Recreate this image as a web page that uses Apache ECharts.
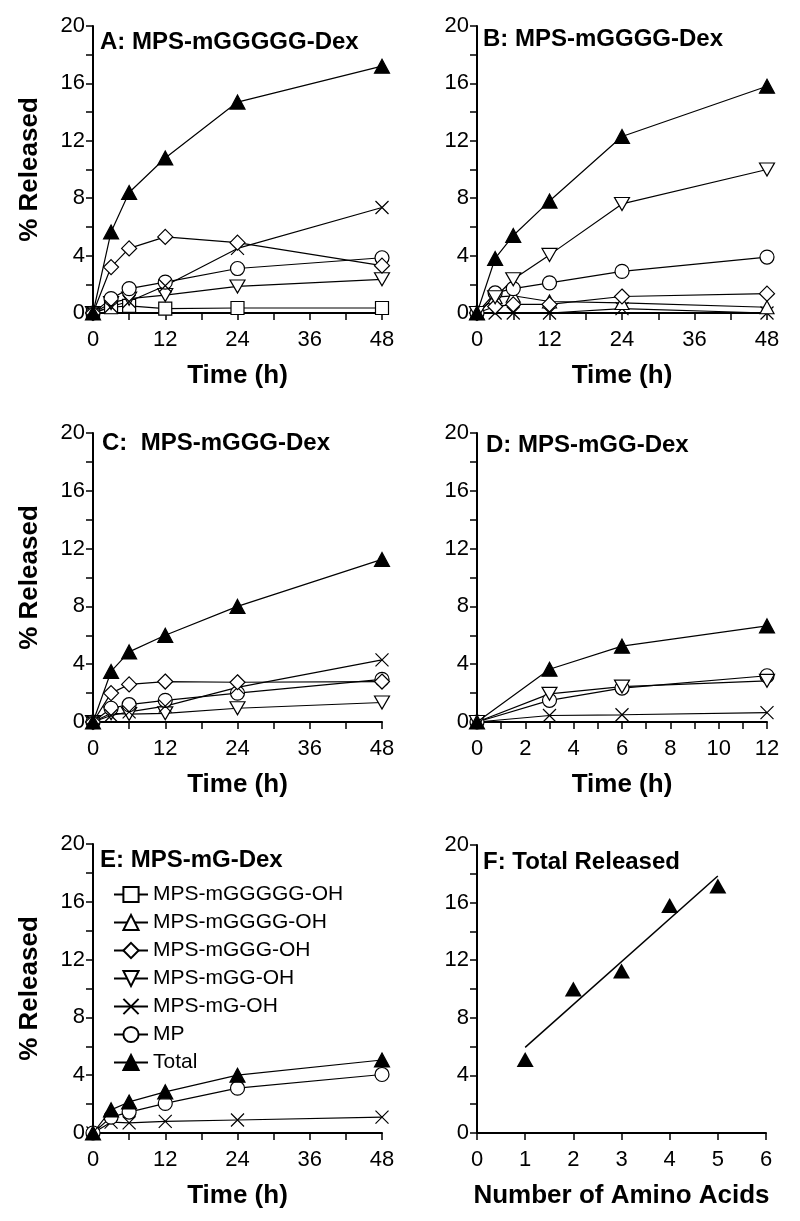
<!DOCTYPE html>
<html>
<head>
<meta charset="utf-8">
<title>Release profiles</title>
<script src="https://cdn.jsdelivr.net/npm/echarts@6/dist/echarts.min.js"></script>
<style>
    html, body { margin: 0; padding: 0; background: #fff; }
    #chart { width: 800px; height: 1221px; }
</style>
</head>
<body>
<div id="chart"></div>
<script>
// time points (h)
const timeLong = [0, 3, 6, 12, 24, 48];
const timeShort = [0, 3, 6, 12];

// legend / species names
const speciesNames = ['MPS-mGGGGG-OH', 'MPS-mGGGG-OH', 'MPS-mGGG-OH', 'MPS-mGG-OH', 'MPS-mG-OH', 'MP', 'Total'];

// panel A: MPS-mGGGGG-Dex
const aGGGGG = [0, 0.4, 0.5, 0.3, 0.35, 0.35];
const aGGG = [0, 3.2, 4.5, 5.3, 4.9, 3.3];
const aGG = [0, 0.7, 1.0, 1.25, 1.85, 2.35];
const aG = [0, 0.45, 0.8, 1.9, 4.5, 7.35];
const aMP = [0, 1.0, 1.7, 2.15, 3.1, 3.85];
const aTotal = [0, 5.65, 8.4, 10.8, 14.7, 17.2];

// panel B: MPS-mGGGG-Dex
const bGGGG = [0, 1.1, 1.2, 0.8, 0.7, 0.4];
const bGGG = [0, 0.45, 0.6, 0.6, 1.15, 1.35];
const bGG = [0, 1.1, 2.35, 4.05, 7.6, 10.0];
const bG = [0, 0, 0, 0, 0.3, 0];
const bMP = [0, 1.4, 1.7, 2.1, 2.9, 3.9];
const bTotal = [0, 3.8, 5.4, 7.8, 12.3, 15.8];

// panel C: MPS-mGGG-Dex
const cGGG = [0, 2.0, 2.6, 2.8, 2.75, 2.8];
const cGG = [0, 0.6, 0.55, 0.6, 0.95, 1.35];
const cG = [0, 0.45, 0.7, 1.1, 2.4, 4.3];
const cMP = [0, 0.95, 1.2, 1.5, 2.0, 2.95];
const cTotal = [0, 3.5, 4.85, 6.0, 8.0, 11.25];

// panel D: MPS-mGG-Dex (0-12 h)
const dGG = [0, 1.95, 2.45, 2.85];
const dG = [0, 0.45, 0.5, 0.65];
const dMP = [0, 1.5, 2.35, 3.2];
const dTotal = [0, 3.65, 5.25, 6.65];

// panel E: MPS-mG-Dex
const eG = [0, 0.75, 0.7, 0.8, 0.9, 1.1];
const eMP = [0, 1.1, 1.45, 2.05, 3.1, 4.05];
const eTotal = [0, 1.6, 2.15, 2.85, 4.0, 5.05];

// panel F: total released vs number of amino acids
const aminoCount = [1, 2, 3, 4, 5];
const totalReleased = [5.1, 10.0, 11.25, 15.8, 17.15];
const fitX = [1, 5];
const fitY = [5.95, 17.85];

document.addEventListener('DOMContentLoaded', function() {
    const chart = echarts.init(document.getElementById('chart'));
    const font = 'Liberation Sans';

    // symbol style per species
    const marks = {
        'MPS-mGGGGG-OH': { symbol: 'rect', size: 13 },
        'MPS-mGGGG-OH': { symbol: 'triangle', size: [14, 13] },
        'MPS-mGGG-OH': { symbol: 'diamond', size: 15 },
        'MPS-mGG-OH': { symbol: 'path://M0,0L10,0L5,8.7Z', size: [15, 13] },
        'MPS-mG-OH': { symbol: 'path://M0,0L10,10M10,0L0,10', size: 13 },
        'MP': { symbol: 'circle', size: 14 },
        'Total': { symbol: 'triangle', size: [15, 14] }
    };

    function pairs(xs, ys) {
        return xs.map(function(x, i) { return [x, ys[i]]; });
    }

    function lineSeries(panel, name, xs, ys) {
        const m = marks[name];
        const filled = name === 'Total';
        return {
            type: 'line',
            name: name,
            xAxisIndex: panel,
            yAxisIndex: panel,
            data: pairs(xs, ys),
            symbol: m.symbol,
            symbolSize: m.size,
            showSymbol: true,
            showAllSymbol: true,
            animation: false,
            emphasis: { disabled: true },
            lineStyle: { color: '#000', width: 1.2 },
            itemStyle: {
                color: filled ? '#000' : '#fff',
                borderColor: '#000',
                borderWidth: 1.2
            },
            z: filled ? 5 : 3
        };
    }

    // grid boxes (pixels)
    const grids = [
        { left: 93, top: 26, width: 289, height: 287 },
        { left: 477, top: 26, width: 290, height: 287 },
        { left: 93, top: 433, width: 289, height: 289 },
        { left: 477, top: 433, width: 290, height: 289 },
        { left: 93, top: 844, width: 289, height: 289 },
        { left: 477, top: 845, width: 289, height: 288 }
    ];

    const axisLine = { show: true, onZero: false, lineStyle: { color: '#000', width: 2 } };
    const axisTick = { show: true, inside: false, length: 7, lineStyle: { color: '#000', width: 1.5 } };
    const minorTick = { show: true, splitNumber: 2, length: 7, lineStyle: { color: '#000', width: 1.5 } };
    const nameStyle = { fontFamily: font, fontSize: 26, fontWeight: 'bold', color: '#000' };

    function xAxis(i, max, interval, name, minor) {
        return {
            type: 'value',
            gridIndex: i,
            min: 0,
            max: max,
            interval: interval,
            axisLine: axisLine,
            axisTick: axisTick,
            minorTick: minor ? minorTick : { show: false },
            splitLine: { show: false },
            axisLabel: { fontFamily: font, fontSize: 22, color: '#000', margin: 16 },
            name: name,
            nameLocation: 'middle',
            nameGap: 50,
            nameTextStyle: nameStyle
        };
    }

    function yAxis(i, name) {
        return {
            type: 'value',
            gridIndex: i,
            min: 0,
            max: 20,
            interval: 4,
            axisLine: axisLine,
            axisTick: axisTick,
            minorTick: minorTick,
            splitLine: { show: false },
            axisLabel: { fontFamily: font, fontSize: 22, color: '#000', margin: 8 },
            name: name,
            nameLocation: 'middle',
            nameGap: 50,
            nameTextStyle: nameStyle
        };
    }

    const titleStyle = { fontFamily: font, fontSize: 24, fontWeight: 'bold', color: '#000' };
    function panelTitle(text, left, top) {
        return { text: text, left: left, top: top, padding: 0, textStyle: titleStyle };
    }

    const series = [
        // A
        lineSeries(0, 'MPS-mGGGGG-OH', timeLong, aGGGGG),
        lineSeries(0, 'MPS-mGG-OH', timeLong, aGG),
        lineSeries(0, 'MP', timeLong, aMP),
        lineSeries(0, 'MPS-mG-OH', timeLong, aG),
        lineSeries(0, 'MPS-mGGG-OH', timeLong, aGGG),
        lineSeries(0, 'Total', timeLong, aTotal),
        // B
        lineSeries(1, 'MPS-mG-OH', timeLong, bG),
        lineSeries(1, 'MPS-mGGGG-OH', timeLong, bGGGG),
        lineSeries(1, 'MPS-mGGG-OH', timeLong, bGGG),
        lineSeries(1, 'MP', timeLong, bMP),
        lineSeries(1, 'MPS-mGG-OH', timeLong, bGG),
        lineSeries(1, 'Total', timeLong, bTotal),
        // C
        lineSeries(2, 'MPS-mGG-OH', timeLong, cGG),
        lineSeries(2, 'MP', timeLong, cMP),
        lineSeries(2, 'MPS-mG-OH', timeLong, cG),
        lineSeries(2, 'MPS-mGGG-OH', timeLong, cGGG),
        lineSeries(2, 'Total', timeLong, cTotal),
        // D
        lineSeries(3, 'MPS-mG-OH', timeShort, dG),
        lineSeries(3, 'MP', timeShort, dMP),
        lineSeries(3, 'MPS-mGG-OH', timeShort, dGG),
        lineSeries(3, 'Total', timeShort, dTotal),
        // E
        lineSeries(4, 'MPS-mG-OH', timeLong, eG),
        lineSeries(4, 'MP', timeLong, eMP),
        lineSeries(4, 'Total', timeLong, eTotal),
        // F: regression line + points
        {
            type: 'line',
            name: 'fit',
            xAxisIndex: 5,
            yAxisIndex: 5,
            data: pairs(fitX, fitY),
            showSymbol: false,
            animation: false,
            emphasis: { disabled: true },
            lineStyle: { color: '#000', width: 1.5 }
        },
        {
            type: 'scatter',
            name: 'Total released',
            xAxisIndex: 5,
            yAxisIndex: 5,
            data: pairs(aminoCount, totalReleased),
            symbol: 'triangle',
            symbolSize: [17, 15],
            animation: false,
            emphasis: { disabled: true },
            itemStyle: { color: '#000', opacity: 1 }
        }
    ];

    const option = {
        backgroundColor: '#fff',
        animation: false,
        textStyle: { fontFamily: font },
        title: [
            panelTitle('A: MPS-mGGGGG-Dex', 100, 30),
            panelTitle('B: MPS-mGGGG-Dex', 483, 27),
            panelTitle('C:  MPS-mGGG-Dex', 102, 431),
            panelTitle('D: MPS-mGG-Dex', 486, 433),
            panelTitle('E: MPS-mG-Dex', 100, 848),
            panelTitle('F: Total Released', 483, 850)
        ],
        legend: {
            data: speciesNames,
            orient: 'vertical',
            left: 108,
            top: 879,
            itemWidth: 34,
            itemHeight: 19,
            itemGap: 7,
            selectedMode: false,
            textStyle: { fontFamily: font, fontSize: 21, color: '#000' }
        },
        grid: grids,
        xAxis: [
            xAxis(0, 48, 12, 'Time (h)', true),
            xAxis(1, 48, 12, 'Time (h)', true),
            xAxis(2, 48, 12, 'Time (h)', true),
            xAxis(3, 12, 2, 'Time (h)', true),
            xAxis(4, 48, 12, 'Time (h)', true),
            xAxis(5, 6, 1, 'Number of Amino Acids', false)
        ],
        yAxis: [
            yAxis(0, '% Released'),
            yAxis(1, ''),
            yAxis(2, '% Released'),
            yAxis(3, ''),
            yAxis(4, '% Released'),
            yAxis(5, '')
        ],
        series: series
    };

    chart.setOption(option);
});
</script>
</body>
</html>
